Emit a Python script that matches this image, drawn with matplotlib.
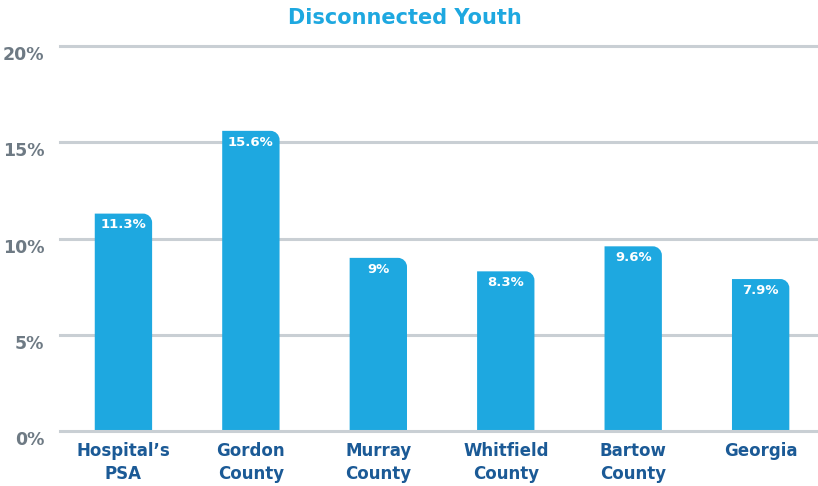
import matplotlib
matplotlib.use("Agg")
import matplotlib.pyplot as plt
from matplotlib.path import Path
from matplotlib.patches import PathPatch

categories = ["Hospital\u2019s\nPSA", "Gordon\nCounty", "Murray\nCounty", "Whitfield\nCounty", "Bartow\nCounty", "Georgia"]
values = [11.3, 15.6, 9.0, 8.3, 9.6, 7.9]
value_labels = ["11.3%", "15.6%", "9%", "8.3%", "9.6%", "7.9%"]
yticks = [0, 5, 10, 15, 20]
ytick_labels = ["0%", "5%", "10%", "15%", "20%"]

bar_color = "#1ea8e0"
grid_color = "#c9cfd4"
tick_color = "#6e7a84"
cat_color = "#1b5a96"

plt.rcParams["font.family"] = ["DejaVu Sans"]

fig = plt.figure(figsize=(8.18, 4.86), dpi=100)
ax = fig.add_axes([0.073, 0.113, 0.927, 0.792])
ax.set_xlim(-0.5, len(values) - 0.55)
ax.set_ylim(0, 20)

for y in yticks:
    # baseline sits on top of the bars, the others behind
    ax.axhline(y, color=grid_color, linewidth=2.2, zorder=3 if y == 0 else 0, clip_on=False)

width = 0.45
# radius of the rounded top-right corner, in pixels -> data units
r_px = 9
px_per_x = ax.transData.transform((1, 0))[0] - ax.transData.transform((0, 0))[0]
px_per_y = ax.transData.transform((0, 1))[1] - ax.transData.transform((0, 0))[1]
rx = r_px / px_per_x
ry = r_px / px_per_y

for i, v in enumerate(values):
    x0, x1 = i - width / 2, i + width / 2
    k = 0.55
    verts = [
        (x0, 0), (x1, 0), (x1, v - ry),
        (x1, v - ry + k * ry), (x1 - rx + k * rx, v), (x1 - rx, v),
        (x0, v), (x0, 0),
    ]
    codes = [Path.MOVETO, Path.LINETO, Path.LINETO,
             Path.CURVE4, Path.CURVE4, Path.CURVE4,
             Path.LINETO, Path.CLOSEPOLY]
    ax.add_patch(PathPatch(Path(verts, codes), facecolor=bar_color, edgecolor="none", zorder=2))
    ax.annotate(value_labels[i], (i, v), xytext=(0, -3.5), textcoords="offset points",
                ha="center", va="top", color="white", fontsize=9.5, fontweight="bold", zorder=3)

ax.set_xticks(range(len(categories)))
ax.set_xticklabels(categories, color=cat_color, fontsize=12, fontweight="bold", linespacing=1.35)
ax.set_yticks(yticks)
ax.set_yticklabels(ytick_labels, color=tick_color, fontsize=12.5, fontweight="bold")
ax.tick_params(axis="both", length=0)
ax.tick_params(axis="x", pad=8)
ax.tick_params(axis="y", pad=11)
for labl in ax.get_yticklabels():
    labl.set_verticalalignment("top")
for s in ax.spines.values():
    s.set_visible(False)

fig.text(0.495, 0.963, "Disconnected Youth", ha="center", va="center",
         color=bar_color, fontsize=15, fontweight="bold")

fig.savefig("out.png", dpi=100)
